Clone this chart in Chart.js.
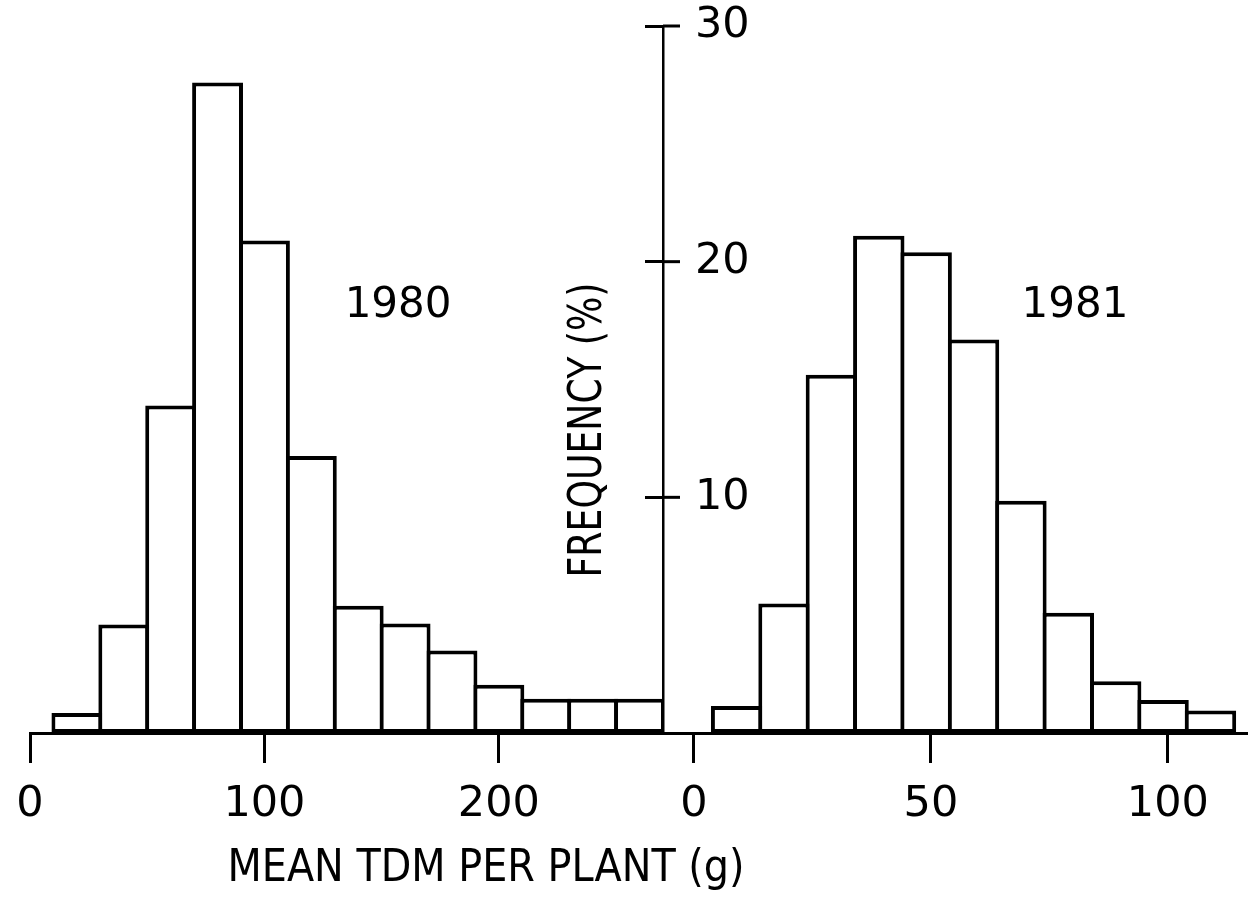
<!DOCTYPE html>
<html>
<head>
<meta charset="utf-8">
<script src="https://cdn.jsdelivr.net/npm/chart.js@4.4.1/dist/chart.umd.min.js"></script>
<style>
  html, body { margin: 0; padding: 0; background: #fff; }
  #wrap { position: relative; width: 1259px; height: 918px; overflow: hidden; background: #fff; }
  #wrap canvas { position: absolute; left: 0; top: 0; }
</style>
</head>
<body>
<div id="wrap">
  <canvas id="c1980" width="1259" height="918"></canvas>
  <canvas id="c1981" width="1259" height="918"></canvas>
</div>
<script>
// ---------------- data ----------------
// 1980: bins of 20 g, lower edges
const binLow1980 = [10, 30, 50, 70, 90, 110, 130, 150, 170, 190, 210, 230, 250];
const binWidth1980 = 20;
const freq1980 = [0.85, 4.6, 13.9, 27.6, 20.9, 11.75, 5.4, 4.65, 3.5, 2.05, 1.45, 1.45, 1.45];

// 1981: bins of 10 g, lower edges
const binLow1981 = [4, 14, 24, 34, 44, 54, 64, 74, 84, 94, 104];
const binWidth1981 = 10;
const freq1981 = [1.15, 5.5, 15.2, 21.1, 20.4, 16.7, 9.85, 5.1, 2.2, 1.4, 0.95];

const xTicks1980 = [0, 100, 200];
const xTicks1981 = [0, 50, 100];
const yTicks = [10, 20, 30];
const yearLabels = ['1980', '1981'];
const xTitle = 'MEAN TDM PER PLANT (g)';
const yTitle = 'FREQUENCY (%)';

// ---------------- helpers ----------------
const FONT = "'DejaVu Sans', 'Liberation Sans', sans-serif";
Chart.defaults.font.family = FONT;
Chart.defaults.color = '#000';

function toPoints(lows, width, freqs) {
  return lows.map((lo, i) => ({ x: lo + width / 2, y: freqs[i] }));
}

function drawText(ctx, text, cx, cy, fontPx, rot, targetW) {
  ctx.save();
  ctx.font = fontPx + 'px ' + FONT;
  ctx.fillStyle = '#000';
  ctx.textAlign = 'center';
  ctx.textBaseline = 'middle';
  ctx.translate(cx, cy);
  ctx.rotate(rot);
  if (targetW) {
    const w = ctx.measureText(text).width;
    ctx.scale(targetW / w, 1);
  }
  ctx.fillText(text, 0, 0);
  ctx.restore();
}

function noPad(s) {
  s.paddingTop = 0; s.paddingBottom = 0; s.paddingLeft = 0; s.paddingRight = 0;
}

const barStyle = {
  backgroundColor: '#fff',
  borderColor: '#000',
  borderWidth: 4,
  borderSkipped: false,
  categoryPercentage: 1.0,
  barPercentage: 1.085,
  grouped: false
};

const xAxisCommon = (min, max, ticks) => ({
  type: 'linear',
  min: min,
  max: max,
  offset: false,
  z: 1,
  border: { display: true, color: '#000', width: 3 },
  grid: { display: true, offset: false, drawOnChartArea: false, drawTicks: true, tickLength: 30, color: '#000', lineWidth: 3 },
  ticks: { font: { size: 43 }, color: '#000', padding: 16, maxRotation: 0, autoSkip: false },
  afterBuildTicks: (s) => { s.ticks = ticks.map(v => ({ value: v })); },
  afterFit: (s) => { s.height = 185; noPad(s); }
});

const yAxisHidden = {
  type: 'linear', min: 0, max: 30, display: false
};

// ---------------- 1980 panel ----------------
const textPlugin1980 = {
  id: 'text1980',
  afterDraw(chart) {
    const ctx = chart.ctx;
    const xs = chart.scales.x, ys = chart.scales.y;
    drawText(ctx, yearLabels[0], xs.getPixelForValue(157), ys.getPixelForValue(18.1), 42, 0);
    drawText(ctx, xTitle, 486, 870, 44, 0, 517);
    drawText(ctx, yTitle, 589, 430, 47, -Math.PI / 2, 295);
  }
};

new Chart(document.getElementById('c1980'), {
  type: 'bar',
  data: {
    datasets: [Object.assign({ label: '1980', data: toPoints(binLow1980, binWidth1980, freq1980) }, barStyle)]
  },
  options: {
    responsive: false,
    animation: false,
    devicePixelRatio: 1,
    layout: { padding: { left: 30, right: 596, top: 26, bottom: 0 } },
    plugins: { legend: { display: false }, tooltip: { enabled: false } },
    scales: {
      x: xAxisCommon(0, 270, xTicks1980),
      y: yAxisHidden
    }
  },
  plugins: [textPlugin1980]
});

// ---------------- 1981 panel (carries the frequency axis) ----------------
const textPlugin1981 = {
  id: 'text1981',
  afterDraw(chart) {
    const ctx = chart.ctx;
    const xs = chart.scales.x, ys = chart.scales.y;
    // inner half of the crossing tick marks on the frequency axis
    ctx.save();
    ctx.strokeStyle = '#000';
    ctx.lineWidth = 3;
    ys.ticks.forEach(t => {
      const py = ys.getPixelForValue(t.value);
      ctx.beginPath();
      ctx.moveTo(ys.right, py);
      ctx.lineTo(ys.right + 17, py);
      ctx.stroke();
    });
    ctx.restore();
    drawText(ctx, yearLabels[1], xs.getPixelForValue(80.4), ys.getPixelForValue(18.1), 42, 0);
  }
};

new Chart(document.getElementById('c1981'), {
  type: 'bar',
  data: {
    datasets: [Object.assign({ label: '1981', data: toPoints(binLow1981, binWidth1981, freq1981) }, barStyle)]
  },
  options: {
    responsive: false,
    animation: false,
    devicePixelRatio: 1,
    layout: { padding: { left: 560, right: 13, top: 26, bottom: 0 } },
    plugins: { legend: { display: false }, tooltip: { enabled: false } },
    scales: {
      x: xAxisCommon(-6.54, 116.5, xTicks1981),
      y: {
        type: 'linear',
        position: 'left',
        min: 0,
        max: 30,
        z: 1,
        border: { display: true, color: '#000', width: 2.5 },
        grid: { display: true, drawOnChartArea: false, drawTicks: true, tickLength: 18, color: '#000', lineWidth: 3 },
        ticks: { mirror: true, padding: 32, font: { size: 43 }, color: '#000' },
        afterBuildTicks: (s) => { s.ticks = yTicks.map(v => ({ value: v })); },
        afterFit: (s) => { s.width = 103; noPad(s); }
      }
    }
  },
  plugins: [textPlugin1981]
});
</script>
</body>
</html>
